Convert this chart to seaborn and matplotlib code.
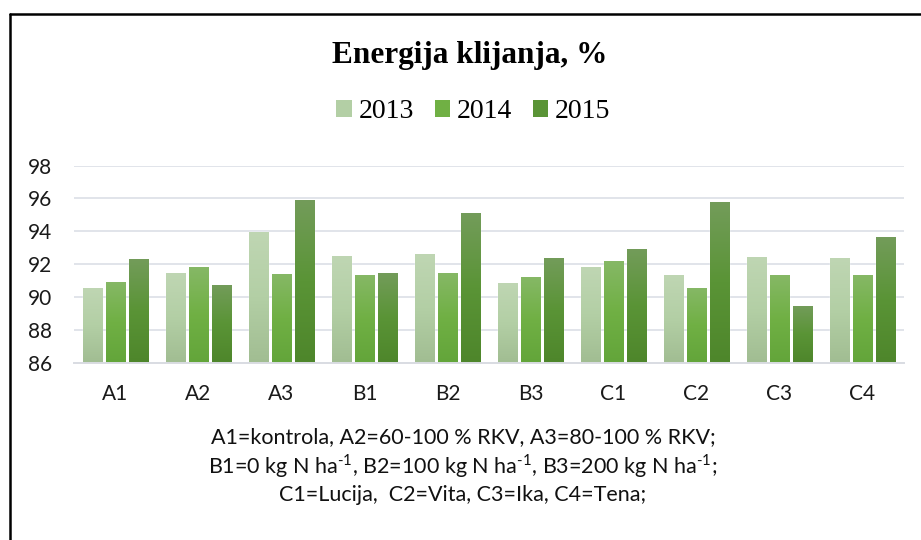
import numpy as np
import pandas as pd
import matplotlib
matplotlib.use("Agg")
import matplotlib.pyplot as plt
import seaborn as sns
from matplotlib.colors import to_rgb
from matplotlib.lines import Line2D
from matplotlib.patches import Patch

# podaci (ocitano s grafikona)
tretmani = ["A1", "A2", "A3", "B1", "B2", "B3", "C1", "C2", "C3", "C4"]
godine = ["2013", "2014", "2015"]
v2013 = [90.57, 91.48, 93.97, 92.52, 92.64, 90.88, 91.85, 91.36, 92.45, 92.39]
v2014 = [90.94, 91.85, 91.42, 91.36, 91.48, 91.24, 92.21, 90.57, 91.36, 91.36]
v2015 = [92.33, 90.75, 95.92, 91.48, 95.13, 92.39, 92.94, 95.80, 89.48, 93.67]

df = pd.DataFrame({
    "tretman": tretmani * 3,
    "godina": [g for g in godine for _ in tretmani],
    "energija": v2013 + v2014 + v2015,
})

# gradijent (dno, sredina, vrh) za svaku godinu
gradijenti = {
    "2013": ["#a1bd92", "#b3cfa5", "#bfd6b3"],
    "2014": ["#63a53a", "#70b044", "#86b866"],
    "2015": ["#4e862b", "#5a9436", "#739c5a"],
}
paleta = {g: gradijenti[g][1] for g in godine}

sns.set_style("white")
plt.rcParams["font.family"] = ["Lato", "DejaVu Sans"]
plt.rcParams["mathtext.fontset"] = "custom"
plt.rcParams["mathtext.rm"] = "Lato"
plt.rcParams["text.color"] = "black"

fig = plt.figure(figsize=(9.21, 5.4), dpi=100)
ax = fig.add_axes([0.0803, 0.3272, 0.9013, 0.3663])

sns.barplot(data=df, x="tretman", y="energija", hue="godina", palette=paleta,
            width=0.83, gap=0.17, legend=False, ax=ax, saturation=1)

ymin, ymax = 86, 98
xlim = ax.get_xlim()


def gradient(boje, n=64):
    c = np.array([to_rgb(b) for b in boje])
    t = np.linspace(0, 1, n)
    pos = np.linspace(0, 1, len(c))
    arr = np.stack([np.interp(t, pos, c[:, k]) for k in range(3)], axis=1)
    return arr[:, None, :]


for god, cont in zip(godine, ax.containers):
    g = gradient(gradijenti[god])
    for p in cont:
        x0, w = p.get_x(), p.get_width()
        top = p.get_y() + p.get_height()
        im = ax.imshow(g, extent=[x0, x0 + w, ymin, top], origin="lower",
                       aspect="auto", zorder=p.get_zorder() + 0.1)
        im.set_clip_path(p)

ax.set_xlim(xlim)
ax.set_ylim(ymin, ymax)
ax.set_yticks(range(86, 99, 2))
ax.yaxis.grid(True, color="#e1e4ea", lw=1.4)
ax.set_axisbelow(True)
for s in ["top", "right", "left"]:
    ax.spines[s].set_visible(False)
ax.spines["bottom"].set_color("#d9dce2")
ax.spines["bottom"].set_linewidth(1.4)
ax.tick_params(axis="both", length=0, labelsize=15, colors="#1a1a1a")
ax.tick_params(axis="x", pad=15)
ax.tick_params(axis="y", pad=15.5)
ax.set_xlabel("")
ax.set_ylabel("")

# naslov i legenda
fig.text(0.51, 1 - 55 / 540, "Energija klijanja, %", ha="center", va="center",
         fontsize=22.5, fontweight="bold", family="Liberation Serif",
         color="black")
ruke = [Patch(facecolor=gradijenti[g][1], edgecolor="none") for g in godine]
fig.legend(ruke, godine, loc="center", bbox_to_anchor=(0.514, 1 - 112 / 540),
           ncol=3, frameon=False, handlelength=0.55, handleheight=0.55,
           handletextpad=0.25, columnspacing=0.75,
           prop={"family": "Liberation Serif", "size": 20})

# objasnjenje tretmana
fus = [
    "A1=kontrola, A2=60-100 % RKV, A3=80-100 % RKV;",
    r"B1=0 kg N ha$^{\text{-}1}$, B2=100 kg N ha$^{\text{-}1}$, B3=200 kg N ha$^{\text{-}1}$;",
    "C1=Lucija,  C2=Vita, C3=Ika, C4=Tena;",
]
for i, t in enumerate(fus):
    fig.text(463 / 921, 1 - (437 + 29 * i) / 540, t, ha="center", va="center",
             fontsize=15.5, color="#111111")

# okvir (lijevo i gore)
fig.add_artist(Line2D([9.5 / 921, 9.5 / 921], [0, 1 - 14 / 540],
                      transform=fig.transFigure, color="black", lw=1.8))
fig.add_artist(Line2D([9.5 / 921, 1], [1 - 14 / 540, 1 - 14 / 540],
                      transform=fig.transFigure, color="black", lw=1.8))

fig.savefig("out.png", dpi=100)
